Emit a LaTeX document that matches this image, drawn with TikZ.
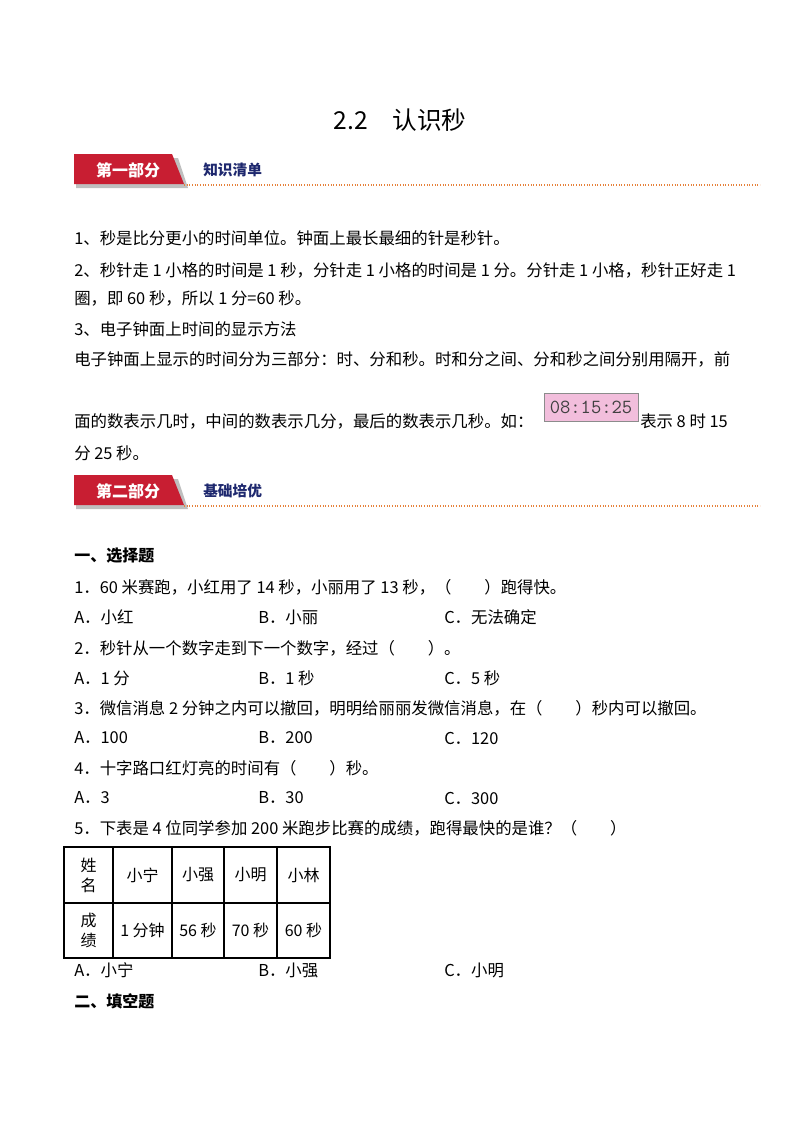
\documentclass[tikz,border=0pt]{standalone}
\usepackage{fontspec}
\setmainfont{Noto Sans CJK SC}
\definecolor{bred}{RGB}{200,30,50}
\definecolor{navy}{RGB}{30,40,110}
\definecolor{dotor}{RGB}{230,130,60}
\definecolor{lcdpink}{RGB}{242,190,220}
\begin{document}
\begin{tikzpicture}[x=0.75pt,y=-0.75pt,
  txt/.style={anchor=west,inner sep=0pt,font=\fontsize{12.3pt}{14pt}\selectfont},
  hd/.style={anchor=west,inner sep=0pt,font=\fontsize{12pt}{14pt}\bfseries\selectfont},
  cell/.style={font=\fontsize{12pt}{15pt}\selectfont,align=center,inner sep=0pt}]
\useasboundingbox (0,0) rectangle (800,1132);
\node[inner sep=0pt,font=\fontsize{18.5pt}{22pt}\selectfont] (title) at (400,120) {2.2\quad 认识秒};
% banners
\foreach \y/\a/\b/\n in {154/第一部分/知识清单/b1,475/第二部分/基础培优/b2}{
  \fill[black!25] (76,\y+4) -- (178,\y+4) -- (188,\y+34) -- (76,\y+34) -- cycle;
  \fill[bred] (74,\y) -- (172,\y) -- (184,\y+30) -- (74,\y+30) -- cycle;
  \node[inner sep=0pt,text=white,font=\fontsize{12pt}{14pt}\bfseries\selectfont] (\n a) at (128,\y+16) {\a};
  \node[inner sep=0pt,text=navy,anchor=west,font=\fontsize{11pt}{13pt}\bfseries\selectfont] (\n b) at (203,\y+16) {\b};
  \draw[dotor,line width=0.8pt,dash pattern=on 0.8pt off 1.2pt] (184,\y+31) -- (760,\y+31);
}
\node[txt] (l1) at (74,238) {1、秒是比分更小的时间单位。钟面上最长最细的针是秒针。};
\node[txt] (l2) at (74,270) {2、秒针走 1 小格的时间是 1 秒，分针走 1 小格的时间是 1 分。分针走 1 小格，秒针正好走 1};
\node[txt] (l3) at (74,298) {圈，即 60 秒，所以 1 分=60 秒。};
\node[txt] (l4) at (74,329) {3、电子钟面上时间的显示方法};
\node[txt] (l5) at (74,359) {电子钟面上显示的时间分为三部分：时、分和秒。时和分之间、分和秒之间分别用隔开，前};
\node[txt] (l6) at (74,421) {面的数表示几时，中间的数表示几分，最后的数表示几秒。如：};
\node[draw=black!45,fill=lcdpink,minimum width=94*0.75pt,minimum height=28*0.75pt,inner sep=0pt,
  font=\fontsize{15pt}{15pt}\ttfamily\selectfont,text=black!75] (clk) at (591,407) {08:15:25};
\node[txt] (l6b) at (640,421) {表示 8 时 15};
\node[txt] (l7) at (74,453) {分 25\ 秒。};
\node[hd] (s1) at (74,556) {一、选择题};
\node[txt] (q1) at (74,587) {1．60 米赛跑，小红用了 14 秒，小丽用了 13 秒，（\qquad）跑得快。};
\node[txt] (q1a) at (74,617) {A．小红}; \node[txt] (q1b) at (258,617) {B．小丽}; \node[txt] (q1c) at (444,617) {C．无法确定};
\node[txt] (q2) at (74,648) {2．秒针从一个数字走到下一个数字，经过（\qquad）。};
\node[txt] (q2a) at (74,678) {A．1 分}; \node[txt] (q2b) at (258,678) {B．1 秒}; \node[txt] (q2c) at (444,678) {C．5 秒};
\node[txt] (q3) at (74,708) {3．微信消息 2 分钟之内可以撤回，明明给丽丽发微信消息，在（\qquad）秒内可以撤回。};
\node[txt] (q3a) at (74,738) {A．100}; \node[txt] (q3b) at (258,738) {B．200}; \node[txt] (q3c) at (444,738) {C．120};
\node[txt] (q4) at (74,768) {4．十字路口红灯亮的时间有（\qquad）秒。};
\node[txt] (q4a) at (74,798) {A．3}; \node[txt] (q4b) at (258,798) {B．30}; \node[txt] (q4c) at (444,798) {C．300};
\node[txt] (q5) at (74,828) {5．下表是 4 位同学参加 200 米跑步比赛的成绩，跑得最快的是谁？（\qquad）};
% table
\draw[line width=0.8pt] (64,847) rectangle (330,958);
\draw[line width=0.8pt] (64,903) -- (330,903);
\foreach \x in {113,172,224,277} \draw[line width=0.8pt] (\x,847) -- (\x,958);
\node[cell] (c11) at (88.5,875) {姓\\名};
\node[cell] (c12) at (142.5,875) {小宁};
\node[cell] (c13) at (198,875) {小强};
\node[cell] (c14) at (250.5,875) {小明};
\node[cell] (c15) at (303.5,875) {小林};
\node[cell] (c21) at (88.5,930) {成\\绩};
\node[cell] (c22) at (142.5,930) {1 分钟};
\node[cell] (c23) at (198,930) {56 秒};
\node[cell] (c24) at (250.5,930) {70 秒};
\node[cell] (c25) at (303.5,930) {60 秒};
\node[txt] (q5a) at (74,970) {A．小宁}; \node[txt] (q5b) at (258,970) {B．小强}; \node[txt] (q5c) at (444,970) {C．小明};
\node[hd] (s2) at (74,1001) {二、填空题};
\end{tikzpicture}
\end{document}
